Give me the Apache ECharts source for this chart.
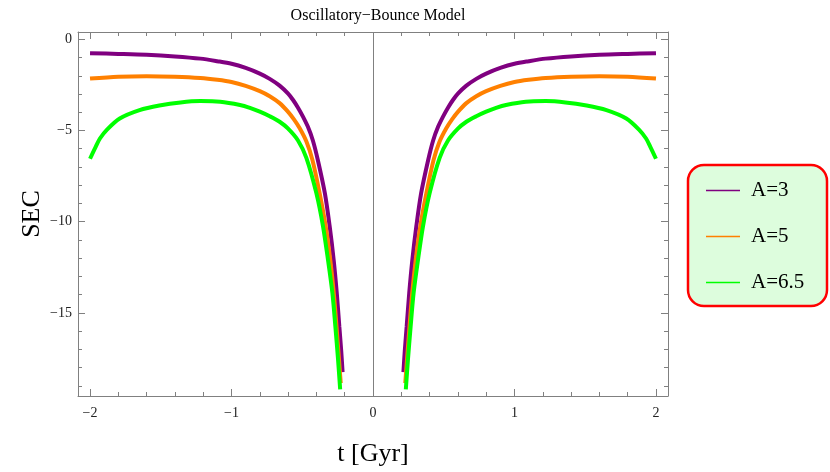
<!DOCTYPE html>
<html>
<head>
<meta charset="utf-8">
<script src="https://cdn.jsdelivr.net/npm/echarts@6/dist/echarts.min.js"></script>
<style>html,body{margin:0;padding:0;background:#fff;}#c{width:830px;height:472px;}</style>
</head>
<body>
<div id="c"></div>
<script>
// ---- data ----
const seriesNames = ['A=3', 'A=5', 'A=6.5'];

const tA3 = [-2.00,-1.80,-1.60,-1.40,-1.22,-1.10,-1.00,-0.90,-0.80,-0.73,-0.66,-0.60,-0.565,-0.53,-0.495,-0.46,-0.425,-0.39,-0.34,-0.306,-0.278,-0.256,-0.238,-0.225,-0.215,
             0.215,0.225,0.238,0.256,0.278,0.306,0.34,0.39,0.425,0.46,0.495,0.53,0.565,0.60,0.66,0.73,0.80,0.90,1.00,1.10,1.22,1.40,1.60,1.80,2.00];
const secA3 = [-0.76,-0.80,-0.85,-0.94,-1.06,-1.20,-1.34,-1.57,-1.88,-2.17,-2.54,-2.98,-3.33,-3.75,-4.24,-4.80,-5.55,-6.62,-8.45,-10.27,-12.10,-13.92,-15.75,-17.05,-18.25,
               -18.25,-17.05,-15.75,-13.92,-12.10,-10.27,-8.45,-6.62,-5.55,-4.80,-4.24,-3.75,-3.33,-2.98,-2.54,-2.17,-1.88,-1.57,-1.34,-1.20,-1.06,-0.94,-0.85,-0.80,-0.76];

const tA5 = [-2.00,-1.80,-1.60,-1.40,-1.22,-1.10,-1.00,-0.90,-0.80,-0.73,-0.66,-0.60,-0.56,-0.518,-0.47,-0.428,-0.377,-0.334,-0.302,-0.277,-0.258,-0.241,-0.228,
             0.228,0.241,0.258,0.277,0.302,0.334,0.377,0.428,0.47,0.518,0.56,0.60,0.66,0.73,0.80,0.90,1.00,1.10,1.22,1.40,1.60,1.80,2.00];
const secA5 = [-2.15,-2.05,-2.02,-2.05,-2.12,-2.22,-2.34,-2.55,-2.84,-3.12,-3.50,-3.98,-4.38,-4.88,-5.62,-6.62,-8.45,-10.27,-12.10,-13.92,-15.75,-17.50,-18.85,
               -18.85,-17.50,-15.75,-13.92,-12.10,-10.27,-8.45,-6.62,-5.62,-4.88,-4.38,-3.98,-3.50,-3.12,-2.84,-2.55,-2.34,-2.22,-2.12,-2.05,-2.02,-2.05,-2.15];

const tA65 = [-2.00,-1.96,-1.93,-1.88,-1.79,-1.65,-1.51,-1.36,-1.22,-1.08,-0.94,-0.87,-0.80,-0.73,-0.66,-0.60,-0.53,-0.471,-0.40,-0.353,-0.318,-0.287,-0.266,-0.247,-0.232,
              0.232,0.247,0.266,0.287,0.318,0.353,0.40,0.471,0.53,0.60,0.66,0.73,0.80,0.87,0.94,1.08,1.22,1.36,1.51,1.65,1.79,1.88,1.93,1.96,2.00];
const secA65 = [-6.55,-5.90,-5.44,-4.95,-4.34,-3.88,-3.63,-3.46,-3.39,-3.42,-3.60,-3.76,-3.97,-4.22,-4.52,-4.90,-5.55,-6.50,-8.45,-10.27,-12.10,-13.92,-15.75,-17.57,-19.20,
                -19.20,-17.57,-15.75,-13.92,-12.10,-10.27,-8.45,-6.50,-5.55,-4.90,-4.52,-4.22,-3.97,-3.76,-3.60,-3.42,-3.39,-3.46,-3.63,-3.88,-4.34,-4.95,-5.44,-5.90,-6.55];

const xMajorTicks = [-2, -1, 0, 1, 2];
const xMinorTicks = [-2.0,-1.8,-1.6,-1.4,-1.2,-1.0,-0.8,-0.6,-0.4,-0.2,0,0.2,0.4,0.6,0.8,1.0,1.2,1.4,1.6,1.8,2.0];
const yMajorTicks = [-15, -10, -5, 0];
const yMinorTicks = [-19,-18,-17,-16,-15,-14,-13,-12,-11,-10,-9,-8,-7,-6,-5,-4,-3,-2,-1,0];

// ---- build ----
function pairs(t, v) {
  const out = [];
  for (let i = 0; i < t.length; i++) {
    if (i > 0 && t[i - 1] < 0 && t[i] > 0) out.push([0, '-']);
    out.push([t[i], v[i]]);
  }
  return out;
}
const colors = ['#800080', '#ff8000', '#00ff00'];
const XMIN = -2.085, XMAX = 2.085, YMIN = -19.56, YMAX = 0.40;
const FRAME = '#808080';
const serif = '"Liberation Serif", "DejaVu Serif", serif';
const fmt = v => (v < 0 ? '\u2212' + Math.abs(v) : String(v));

function xAx(pos, ticks, len, labels, line) {
  return {
    type: 'value', position: pos, min: XMIN, max: XMAX,
    axisLine: { show: line, onZero: false, lineStyle: { color: FRAME, width: 1 } },
    axisTick: { show: true, inside: true, length: len, customValues: ticks, lineStyle: { color: FRAME, width: 1 } },
    axisLabel: labels ? { show: true, customValues: ticks, formatter: fmt, margin: 10, color: '#222', fontFamily: serif, fontSize: 14 } : { show: false },
    splitLine: { show: false }
  };
}
function yAx(pos, ticks, len, labels, line) {
  return {
    type: 'value', position: pos, min: YMIN, max: YMAX,
    axisLine: { show: line, onZero: false, lineStyle: { color: FRAME, width: 1 } },
    axisTick: { show: true, inside: true, length: len, customValues: ticks, lineStyle: { color: FRAME, width: 1 } },
    axisLabel: labels ? { show: true, customValues: ticks, formatter: fmt, margin: 6, color: '#222', fontFamily: serif, fontSize: 14 } : { show: false },
    splitLine: { show: false }
  };
}

const xAxes = [
  xAx('bottom', xMajorTicks, 7, true, true),
  xAx('bottom', xMinorTicks, 4, false, false),
  xAx('top', xMajorTicks, 7, false, true),
  xAx('top', xMinorTicks, 4, false, false)
];
xAxes[0].name = 't [Gyr]';
xAxes[0].nameLocation = 'middle';
xAxes[0].nameGap = 45;
xAxes[0].nameMoveOverlap = false;
xAxes[0].nameTextStyle = { fontFamily: serif, fontSize: 26, color: '#000' };

const yAxes = [
  yAx('left', yMajorTicks, 7, true, true),
  yAx('left', yMinorTicks, 4, false, false),
  yAx('right', yMajorTicks, 7, false, true),
  yAx('right', yMinorTicks, 4, false, false)
];
yAxes[0].name = 'SEC';
yAxes[0].nameLocation = 'middle';
yAxes[0].nameGap = 33;
yAxes[0].nameMoveOverlap = false;
yAxes[0].nameTextStyle = { fontFamily: serif, fontSize: 26, color: '#000' };

const datasets = [[tA3, secA3], [tA5, secA5], [tA65, secA65]];
const series = datasets.map((d, i) => ({
  name: seriesNames[i], type: 'line', xAxisIndex: 0, yAxisIndex: 0,
  data: pairs(d[0], d[1]), showSymbol: false, symbol: 'none',
  smooth: 0.3, connectNulls: false,
  lineStyle: { color: colors[i], width: 4 }, itemStyle: { color: colors[i] },
  z: 3 + i, animation: false
}));
series[0].markLine = {
  silent: true, symbol: ['none', 'none'], animation: false,
  label: { show: false },
  lineStyle: { color: FRAME, width: 1, type: 'solid' },
  data: [{ xAxis: 0 }]
};

const chart = echarts.init(document.getElementById('c'));
chart.setOption({
  animation: false,
  backgroundColor: '#fff',
  title: {
    text: 'Oscillatory\u2212Bounce Model', left: 373, top: 3, textAlign: 'center',
    textStyle: { fontFamily: serif, fontSize: 16, fontWeight: 'normal', color: '#000' }
  },
  grid: { left: 78, right: 162, top: 32, bottom: 76, containLabel: false },
  xAxis: xAxes,
  yAxis: yAxes,
  graphic: [{
    type: 'rect', z: -10, silent: true,
    shape: { x: 688, y: 165, width: 139, height: 141, r: 16 },
    style: { fill: '#ddfddd', stroke: '#ff0000', lineWidth: 2.5 }
  }],
  legend: {
    orient: 'vertical', left: 701, top: 175, itemGap: 25,
    icon: 'rect', itemWidth: 34, itemHeight: 1.5, itemStyle: { borderWidth: 0 },
    textStyle: { fontFamily: serif, fontSize: 21, color: '#000', padding: [0, 0, 0, 6] },
    data: seriesNames, selectedMode: false
  },
  series: series
});
</script>
</body>
</html>
